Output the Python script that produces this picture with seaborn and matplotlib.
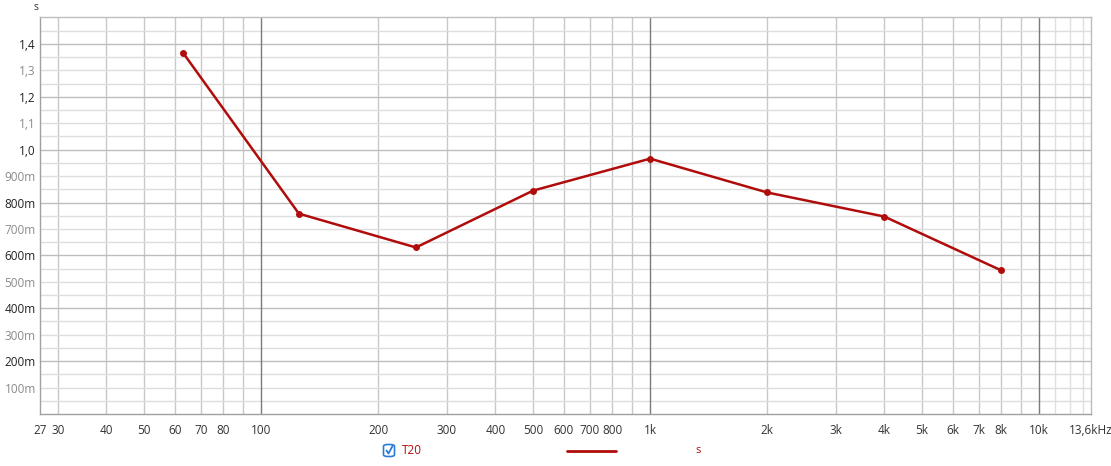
import numpy as np
import pandas as pd
import matplotlib
matplotlib.use('Agg')
import matplotlib.pyplot as plt
from matplotlib.patches import FancyBboxPatch
from matplotlib.lines import Line2D
import seaborn as sns

# Octave band centres (Hz) and T20 reverberation time (s).
freqs = [63, 125, 250, 500, 1000, 2000, 4000, 8000]
t20 = [1.366, 0.758, 0.630, 0.845, 0.966, 0.838, 0.747, 0.543]

# Axis tick labels.
xTickVals = [27, 30, 40, 50, 60, 70, 80, 100, 200, 300, 400, 500, 600, 700, 800,
             1000, 2000, 3000, 4000, 5000, 6000, 7000, 8000, 10000, 13600]
xTickLabels = ['27', '30', '40', '50', '60', '70', '80', '100', '200', '300', '400',
               '500', '600', '700', '800', '1k', '2k', '3k', '4k', '5k', '6k', '7k',
               '8k', '10k', '13,6kHz']
yTickVals = [0.1, 0.2, 0.3, 0.4, 0.5, 0.6, 0.7, 0.8, 0.9, 1.0, 1.1, 1.2, 1.3, 1.4]
yTickLabels = ['100m', '200m', '300m', '400m', '500m', '600m', '700m', '800m',
               '900m', '1,0', '1,1', '1,2', '1,3', '1,4']

lineColor = '#b00c0c'

sns.set_style('white')
plt.rcParams['font.family'] = ['Open Sans', 'DejaVu Sans']

fig = plt.figure(figsize=(11.11, 4.66), dpi=100)
ax = fig.add_axes([40 / 1111, 52 / 466, 1051 / 1111, 396.5 / 466])

# Grid: decades dark, 2..9 medium, 11k..13k light.
decades = [100, 1000, 10000]
mids = [m * d for d in (10, 100, 1000) for m in range(2, 10) if 27 <= m * d]
lights = [11000, 12000, 13000]
for x in mids:
  ax.axvline(x, color='#c8c8c8', lw=1, zorder=0)
for x in lights:
  ax.axvline(x, color='#e0e0e0', lw=1, zorder=0)
for x in decades:
  ax.axvline(x, color='#7a7a7a', lw=1, zorder=1)
for i in range(1, 30):
  y = i * 0.05
  c = '#bdbdbd' if i % 4 == 0 else '#dedede'
  ax.axhline(y, color=c, lw=1, zorder=0)

# Data.
df = pd.DataFrame({'freq': freqs, 'T20': t20})
sns.lineplot(data=df, x='freq', y='T20', ax=ax, color=lineColor, lw=1.8,
             marker='o', markersize=5, markeredgewidth=0, zorder=3)

ax.set_xscale('log')
ax.set_xlim(27, 13600)
ax.set_ylim(0, 1.5)
ax.set_xlabel('')
ax.set_ylabel('')

ax.set_xticks(xTickVals)
ax.set_xticklabels(xTickLabels)
ax.xaxis.set_minor_locator(matplotlib.ticker.NullLocator())
ax.set_yticks(yTickVals)
ax.set_yticklabels(yTickLabels)
ax.tick_params(axis='both', length=0, labelsize=8.5, labelcolor='#333333')
ax.tick_params(axis='x', pad=7)
ax.tick_params(axis='y', pad=3)
for i, lab in enumerate(ax.get_yticklabels()):
  lab.set_color('#222222' if i % 2 == 1 else '#8a8a8a')

for s in ax.spines.values():
  s.set_color('#bdbdbd')
  s.set_linewidth(1)
ax.spines['left'].set_color('#a0a0a0')
ax.spines['bottom'].set_color('#a0a0a0')

# Unit label.
fig.text(36 / 1111, 1 - 8 / 466, 's', fontsize=7.5, color='#333333',
         ha='center', va='center')

# Legend row.
yl = 1 - 450.5 / 466
box = FancyBboxPatch((383.5 / 1111, 1 - 456.5 / 466), 11 / 1111, 12 / 466,
                     boxstyle='round,pad=0,rounding_size=0.004',
                     transform=fig.transFigure, facecolor='white',
                     edgecolor='#2b7bd6', lw=1.2)
fig.patches.append(box)
fig.lines.append(Line2D([386.5 / 1111, 388.5 / 1111, 392.5 / 1111],
                        [1 - 450.5 / 466, 1 - 453.5 / 466, 1 - 446 / 466],
                        transform=fig.transFigure, color='#2b7bd6', lw=1.3))
fig.text(402 / 1111, yl, 'T20', fontsize=8.5, color=lineColor, va='center')
fig.lines.append(Line2D([567 / 1111, 616 / 1111], [yl, yl],
                        transform=fig.transFigure, color=lineColor, lw=2))
fig.text(698 / 1111, yl, 's', fontsize=8, color=lineColor, va='center',
         ha='center')

fig.savefig('out.png', dpi=100)
